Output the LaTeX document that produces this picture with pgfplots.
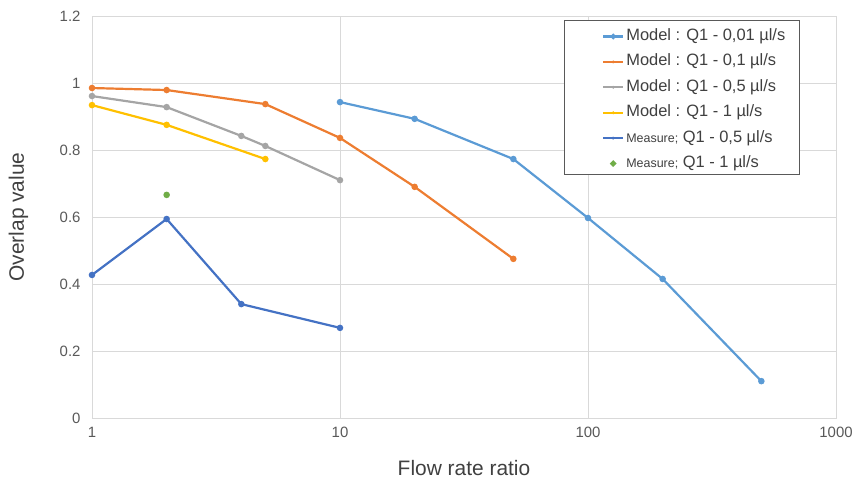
\documentclass[border=0pt]{standalone}
\usepackage{fontspec}
\setmainfont{Liberation Sans}
\usepackage{pgfplots}
\pgfplotsset{compat=1.18}
\definecolor{cA}{HTML}{5B9BD5}
\definecolor{cB}{HTML}{ED7D31}
\definecolor{cC}{HTML}{A5A5A5}
\definecolor{cD}{HTML}{FFC000}
\definecolor{cE}{HTML}{4472C4}
\definecolor{cF}{HTML}{70AD47}
\definecolor{txt}{HTML}{404040}
\definecolor{tick}{HTML}{595959}
\definecolor{gridc}{HTML}{D9D9D9}
\begin{document}
\begin{tikzpicture}[x=1bp,y=1bp]
\path[use as bounding box] (-92,-67) rectangle (770,418);
\begin{axis}[
  at={(0,0)}, anchor=south west,
  scale only axis, width=744bp, height=402bp,
  xmode=log, xmin=1, xmax=1000, ymin=0, ymax=1.2,
  xtick={1,10,100,1000}, xticklabels={1,10,100,1000},
  ytick={0,0.2,0.4,0.6,0.8,1,1.2}, yticklabels={0,0.2,0.4,0.6,0.8,1,1.2},
  minor xtick={},
  major tick length=0pt, minor tick length=0pt,
  grid=major, grid style={gridc, line width=0.8bp},
  axis line style={gridc, line width=0.8bp},
  ticklabel style={font=\fontsize{15}{17}\selectfont, text=tick},
  yticklabel style={xshift=-8bp},
  xticklabel style={yshift=-6bp},
  xlabel={Flow rate ratio}, ylabel={Overlap value},
  label style={font=\fontsize{21}{23}\selectfont, text=txt},
  xlabel style={at={(axis description cs:0.5,-0.124)}, anchor=center},
  ylabel style={at={(axis description cs:-0.099,0.5)}, anchor=center},
  every axis plot/.append style={line width=2.2bp, mark=*, mark size=2.1bp},
  legend style={at={(axis description cs:0.634,0.990)}, anchor=north west,
    draw=tick, line width=0.8bp, fill=white, font=\fontsize{16.5}{18}\selectfont, text=txt,
    inner xsep=2bp, inner ysep=2.5bp, row sep=8.4bp,
    nodes={inner ysep=0pt, inner xsep=1bp, text height=12.5bp, text depth=4.5bp},
    /tikz/every even column/.append style={column sep=0bp}},
  legend cell align=left,
  legend image code/.code={\path (-36bp,0bp); \draw[#1, line width=2.2bp] (0bp,0bp) -- (20bp,0bp); \fill[#1, draw=none] (10bp,0bp) circle (1.6bp); \path (21bp,0bp);},
]
\addplot[cA, mark options={fill=cA, draw=none}, legend image code/.code={\path (-36bp,0bp) (0bp,12.5bp); \draw[cA, line width=2.2bp] (0bp,0bp) -- (20bp,0bp); \fill[cA] (10bp,0bp) circle (1.6bp); \path (21bp,0bp);}] coordinates {(10,0.943) (20,0.893) (50,0.773) (100,0.597) (200,0.415) (500,0.110)};
\addlegendentry{Model : Q1 - 0,01 µl/s\rule{11bp}{0pt}}
\addplot[cB, mark options={fill=cB, draw=none}] coordinates {(1,0.985) (2,0.979) (5,0.937) (10,0.836) (20,0.690) (50,0.475)};
\addlegendentry{Model : Q1 - 0,1 µl/s}
\addplot[cC, mark options={fill=cC, draw=none}] coordinates {(1,0.961) (2,0.928) (4,0.842) (5,0.812) (10,0.710)};
\addlegendentry{Model : Q1 - 0,5 µl/s}
\addplot[cD, mark options={fill=cD, draw=none}] coordinates {(1,0.934) (2,0.875) (5,0.773)};
\addlegendentry{Model : Q1 - 1 µl/s}
\addplot[cE, mark options={fill=cE, draw=none}] coordinates {(1,0.427) (2,0.594) (4,0.340) (10,0.269)};
\addlegendentry{{\fontsize{12.5}{14}\selectfont Measure;} Q1 - 0,5 µl/s}
\addplot[cF, only marks, mark options={fill=cF, draw=none}, legend image code/.code={\path (-36bp,0bp); \fill[cF] (10bp,0bp) circle (1.9bp); \path (21bp,0bp);}] coordinates {(2,0.666)};
\addlegendentry{{\fontsize{12.5}{14}\selectfont Measure;} Q1 - 1 µl/s}
\end{axis}
\end{tikzpicture}
\end{document}
